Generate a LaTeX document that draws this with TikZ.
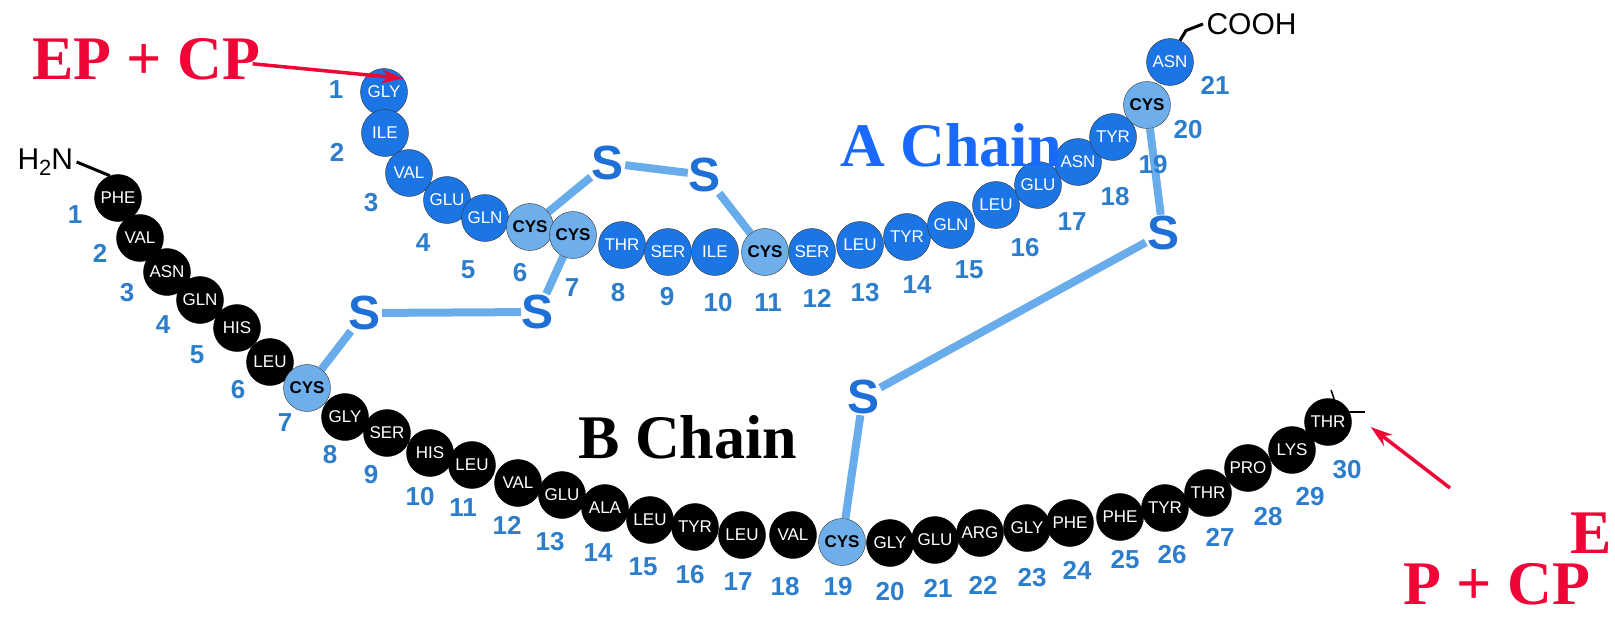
\documentclass[tikz,border=0pt]{standalone}
\usepackage{fontspec}
\setmainfont{Liberation Serif}
\setsansfont{Liberation Sans}
\usepackage{tikz}
\usetikzlibrary{arrows.meta,backgrounds}
\definecolor{achainblue}{RGB}{27,117,228}
\definecolor{cyslight}{RGB}{110,175,235}
\definecolor{numblue}{RGB}{45,125,205}
\definecolor{sulfblue}{RGB}{30,112,215}
\definecolor{bondblue}{RGB}{105,172,235}
\definecolor{titleblue}{RGB}{25,105,255}
\definecolor{epred}{RGB}{240,5,55}

\begin{document}
\begin{tikzpicture}[x=1pt,y=-1pt,
        ares/.style={circle,draw=black!80,fill=achainblue,minimum size=47pt,
                  inner sep=0pt,text=white,font=\sffamily\fontsize{17}{17}\selectfont},
        acys/.style={ares,fill=cyslight,text=black,font=\sffamily\bfseries\fontsize{17}{17}\selectfont},
        bres/.style={ares,fill=black,draw=black,text=white},
        bcys/.style={acys},
        num/.style={text=numblue,font=\sffamily\bfseries\fontsize{26}{26}\selectfont},
        sulf/.style={text=sulfblue,inner sep=1pt,font=\sffamily\bfseries\fontsize{48}{48}\selectfont},
        bond/.style={line width=8pt,bondblue},
        term/.style={font=\sffamily\fontsize{30}{30}\selectfont},
        termlink/.style={line width=3pt,black},
        chainlbl/.style={anchor=base west,inner sep=0pt,font=\bfseries\fontsize{62}{62}\selectfont},
        redlbl/.style={chainlbl,text=epred},
        redarr/.style={-{Stealth[length=22pt,width=14pt]},line width=3.5pt,epred}
      ]
        \useasboundingbox (0,0) rectangle (1615,618);

        % A chain
        \foreach \n/\x/\y/\aa/\st in {1/384/92/GLY/ares, 2/385/133/ILE/ares, 3/409/173/VAL/ares,
            4/447/200/GLU/ares, 5/485/218/GLN/ares, 6/530/227/CYS/acys, 7/573/235/CYS/acys,
            8/622/245/THR/ares, 9/668/252/SER/ares, 10/715/252/ILE/ares, 11/765/252/CYS/acys,
            12/812/252/SER/ares, 13/860/245/LEU/ares, 14/907/237/TYR/ares, 15/951/225/GLN/ares,
            16/996/205/LEU/ares, 17/1038/185/GLU/ares, 18/1078/162/ASN/ares, 19/1113/137/TYR/ares,
            20/1147/105/CYS/acys, 21/1170/62/ASN/ares}
          \node[\st] (a\n) at (\x,\y) {\aa};

        \foreach \n/\x/\y in {1/336/90, 2/337/152, 3/371/203, 4/423/243, 5/468/270, 6/520/273,
            7/572/288, 8/618/293, 9/667/297, 10/718/303, 11/768/303, 12/817/298, 13/865/293,
            14/917/285, 15/969/270, 16/1025/248, 17/1072/222, 18/1115/197, 19/1153/165,
            20/1188/130, 21/1215/85}
          \node[num] (an\n) at (\x,\y) {\n};

        % B chain
        \foreach \n/\x/\y/\aa/\st in {1/118/198/PHE/bres, 2/140/238/VAL/bres, 3/167/272/ASN/bres,
            4/200/300/GLN/bres, 5/237/328/HIS/bres, 6/270/362/LEU/bres, 7/307/388/CYS/bcys,
            8/345/417/GLY/bres, 9/387/433/SER/bres, 10/430/453/HIS/bres, 11/472/465/LEU/bres,
            12/518/483/VAL/bres, 13/562/495/GLU/bres, 14/605/508/ALA/bres, 15/650/520/LEU/bres,
            16/695/527/TYR/bres, 17/742/535/LEU/bres, 18/793/535/VAL/bres, 19/842/542/CYS/bcys,
            20/890/543/GLY/bres, 21/935/540/GLU/bres, 22/980/533/ARG/bres, 23/1027/528/GLY/bres,
            24/1070/523/PHE/bres, 25/1120/517/PHE/bres, 26/1165/508/TYR/bres, 27/1208/493/THR/bres,
            28/1248/468/PRO/bres, 29/1292/450/LYS/bres, 30/1328/422/THR/bres}
          \node[\st] (b\n) at (\x,\y) {\aa};

        \foreach \n/\x/\y in {1/75/215, 2/100/253, 3/127/293, 4/163/325, 5/197/355, 6/238/390,
            7/285/423, 8/330/455, 9/371/475, 10/420/497, 11/463/508, 12/507/525, 13/550/542,
            14/598/553, 15/643/567, 16/690/575, 17/738/582, 18/785/587, 19/838/587, 20/890/592,
            21/938/588, 22/983/585, 23/1032/578, 24/1077/570, 25/1125/560, 26/1172/555,
            27/1220/537, 28/1268/517, 29/1310/497, 30/1347/470}
          \node[num] (bn\n) at (\x,\y) {\n};

        % disulfide bridges
        \node[sulf] (sa) at (608,163) {S};
        \node[sulf] (sb) at (705,175) {S};
        \node[sulf] (sc) at (538,312) {S};
        \node[sulf] (sd) at (365,313) {S};
        \node[sulf] (se) at (863,397) {S};
        \node[sulf] (sf) at (1163,233) {S};

        \begin{pgfonlayer}{background}
          \draw[bond] (a6) -- (sa);
          \draw[bond] (sa) -- (sb);
          \draw[bond] (sb) -- (a11);
          \draw[bond] (a7) -- (sc);
          \draw[bond] (sc) -- (sd);
          \draw[bond] (sd) -- (b7);
          \draw[bond] (a20) -- (sf);
          \draw[bond] (sf) -- (se);
          \draw[bond] (se) -- (b19);
        \end{pgfonlayer}

        % ends
        \node[term,anchor=west] (h2n) at (14,162) {H\raisebox{-6pt}{\fontsize{22}{22}\selectfont 2}N};
        \node[term,anchor=west] (cooh) at (1203,24) {COOH};
        \draw[termlink] (h2n.east) -- (b1.110);
        \draw[termlink] (a21.65) -- ++(6,-10) -- (cooh.west);
        \draw[black,line width=1.5pt] (b30.25) -- ++(16,0);
        \draw[black,line width=1.5pt] (b30.75) -- ++(-3,-9);

        \node[chainlbl,text=titleblue] (alabel) at (840,166) {A Chain};
        \node[chainlbl] (blabel) at (578,458) {B Chain};

        \node[redlbl] (ep) at (32,80) {EP + CP};
        \node[redlbl] (pcp) at (1403,604) {P + CP};
        \node[redlbl] (epe) at (1570,553) {E};
        \coordinate (btail) at (1450,488);
        \draw[redarr] ([xshift=-8pt,yshift=-4pt]ep.east) -- (a1.35);
        \draw[redarr] (btail) -- ([shift={(19,5)}]b30.east);
      \end{tikzpicture}
\end{document}
